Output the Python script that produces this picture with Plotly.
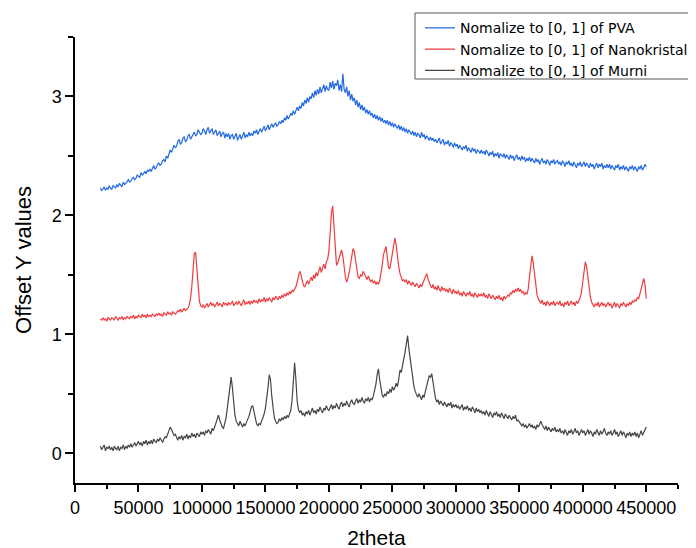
import plotly.graph_objects as go

# 2theta grid (step 1000, 20000..450000)
two_theta = list(range(20000, 451000, 1000))

pva = [
    2.23,2.21,2.22,2.24,2.21,2.23,2.22,2.25,2.23,2.22,2.25,2.24,2.23,2.26,2.24,2.27,2.25,2.24,2.28,2.26,
    2.27,2.29,2.30,2.28,2.29,2.31,2.32,2.30,2.31,2.34,2.33,2.32,2.36,2.34,2.35,2.37,2.35,2.38,2.37,2.39,
    2.37,2.40,2.42,2.39,2.40,2.43,2.44,2.42,2.43,2.46,2.47,2.45,2.50,2.48,2.52,2.55,2.53,2.56,2.59,2.57,
    2.58,2.62,2.64,2.60,2.61,2.65,2.66,2.62,2.63,2.67,2.68,2.64,2.66,2.69,2.70,2.67,2.68,2.72,2.70,2.68,
    2.69,2.73,2.71,2.68,2.72,2.74,2.69,2.71,2.73,2.68,2.70,2.72,2.67,2.69,2.71,2.66,2.69,2.70,2.65,2.69,
    2.66,2.69,2.64,2.67,2.68,2.64,2.66,2.69,2.63,2.65,2.68,2.64,2.67,2.70,2.65,2.68,2.66,2.70,2.67,2.69,
    2.67,2.71,2.69,2.72,2.68,2.71,2.73,2.70,2.72,2.75,2.71,2.74,2.76,2.72,2.75,2.77,2.74,2.76,2.78,2.75,
    2.76,2.79,2.77,2.80,2.78,2.82,2.80,2.84,2.81,2.83,2.86,2.84,2.88,2.85,2.89,2.91,2.88,2.92,2.90,2.95,
    2.92,2.97,2.94,2.99,2.95,3.00,2.98,3.03,2.99,3.05,3.01,3.06,3.02,3.08,3.03,3.07,3.10,3.04,3.09,3.06,
    3.05,3.12,3.07,3.13,3.06,3.11,3.09,3.14,3.05,3.10,3.04,3.19,3.06,3.03,3.08,3.00,3.05,2.97,3.02,2.96,
    2.99,2.93,2.97,2.91,2.95,2.89,2.93,2.88,2.91,2.86,2.89,2.85,2.88,2.84,2.86,2.82,2.85,2.81,2.84,2.80,
    2.83,2.79,2.82,2.78,2.80,2.77,2.80,2.76,2.79,2.75,2.78,2.74,2.77,2.75,2.73,2.76,2.72,2.75,2.71,2.74,
    2.70,2.73,2.69,2.72,2.70,2.68,2.71,2.67,2.70,2.66,2.69,2.68,2.65,2.70,2.66,2.68,2.64,2.67,2.65,2.63,
    2.66,2.63,2.65,2.62,2.64,2.61,2.63,2.65,2.60,2.62,2.64,2.59,2.62,2.60,2.63,2.58,2.61,2.60,2.57,2.61,
    2.58,2.60,2.56,2.59,2.57,2.55,2.58,2.56,2.59,2.54,2.57,2.55,2.53,2.57,2.54,2.56,2.52,2.55,2.54,2.52,
    2.55,2.52,2.54,2.51,2.55,2.53,2.50,2.53,2.51,2.54,2.49,2.52,2.50,2.53,2.48,2.52,2.50,2.49,2.52,2.48,
    2.51,2.49,2.47,2.51,2.48,2.50,2.46,2.49,2.51,2.47,2.49,2.46,2.50,2.47,2.49,2.45,2.48,2.46,2.49,2.45,
    2.48,2.46,2.44,2.48,2.45,2.47,2.43,2.46,2.48,2.44,2.46,2.43,2.47,2.45,2.42,2.46,2.44,2.47,2.43,2.45,
    2.46,2.43,2.45,2.42,2.46,2.44,2.41,2.45,2.43,2.46,2.42,2.44,2.41,2.45,2.43,2.40,2.44,2.42,2.45,2.41,
    2.43,2.45,2.41,2.44,2.42,2.40,2.44,2.41,2.43,2.39,2.42,2.44,2.40,2.43,2.41,2.44,2.39,2.42,2.40,2.43,
    2.40,2.43,2.39,2.42,2.40,2.38,2.42,2.40,2.43,2.38,2.41,2.39,2.42,2.38,2.41,2.39,2.37,2.41,2.39,2.42,
    2.38,2.41,2.39,2.37,2.41,2.39,2.42,2.38,2.40,2.43,2.41,
]

nanokristal = [
    1.13,1.12,1.14,1.12,1.13,1.11,1.14,1.13,1.12,1.14,1.13,1.12,1.15,1.13,1.12,1.14,1.13,1.15,1.12,1.14,
    1.13,1.15,1.14,1.13,1.15,1.14,1.16,1.13,1.15,1.14,1.16,1.15,1.14,1.17,1.15,1.16,1.14,1.17,1.15,1.16,
    1.15,1.17,1.16,1.15,1.17,1.16,1.18,1.16,1.17,1.15,1.18,1.17,1.16,1.19,1.17,1.18,1.16,1.19,1.18,1.17,
    1.18,1.20,1.19,1.21,1.19,1.20,1.22,1.20,1.21,1.22,1.25,1.30,1.40,1.55,1.68,1.69,1.55,1.38,1.28,1.24,
    1.23,1.25,1.22,1.24,1.26,1.23,1.25,1.27,1.24,1.26,1.23,1.25,1.27,1.24,1.26,1.25,1.23,1.27,1.25,1.26,
    1.24,1.27,1.25,1.26,1.28,1.24,1.26,1.27,1.25,1.28,1.26,1.24,1.27,1.29,1.25,1.27,1.26,1.28,1.25,1.28,
    1.26,1.29,1.27,1.28,1.26,1.30,1.27,1.29,1.28,1.31,1.27,1.30,1.28,1.31,1.29,1.27,1.31,1.29,1.32,1.30,
    1.29,1.32,1.30,1.33,1.31,1.34,1.32,1.35,1.33,1.36,1.34,1.37,1.36,1.38,1.40,1.44,1.48,1.53,1.50,1.44,
    1.41,1.40,1.43,1.45,1.42,1.46,1.48,1.45,1.50,1.47,1.52,1.49,1.54,1.57,1.52,1.56,1.59,1.55,1.61,1.63,
    1.70,1.85,2.02,2.08,1.90,1.70,1.58,1.60,1.64,1.69,1.71,1.66,1.56,1.48,1.44,1.47,1.52,1.60,1.68,1.72,
    1.70,1.62,1.53,1.48,1.47,1.50,1.49,1.53,1.51,1.48,1.46,1.49,1.47,1.44,1.46,1.43,1.45,1.42,1.44,1.42,
    1.45,1.50,1.58,1.67,1.72,1.74,1.65,1.56,1.55,1.62,1.70,1.78,1.81,1.75,1.65,1.57,1.51,1.47,1.45,1.46,
    1.44,1.46,1.42,1.45,1.43,1.41,1.44,1.42,1.40,1.43,1.41,1.39,1.42,1.40,1.43,1.46,1.48,1.51,1.47,1.43,
    1.41,1.39,1.42,1.38,1.40,1.37,1.41,1.38,1.36,1.40,1.37,1.39,1.36,1.38,1.35,1.39,1.36,1.34,1.38,1.35,
    1.36,1.34,1.37,1.33,1.35,1.32,1.36,1.34,1.32,1.35,1.33,1.36,1.32,1.34,1.31,1.35,1.33,1.31,1.34,1.32,
    1.34,1.32,1.35,1.31,1.33,1.30,1.34,1.32,1.30,1.33,1.31,1.29,1.32,1.30,1.33,1.29,1.31,1.28,1.32,1.30,
    1.31,1.33,1.32,1.35,1.34,1.37,1.35,1.38,1.36,1.39,1.36,1.38,1.35,1.36,1.33,1.35,1.34,1.38,1.48,1.60,
    1.66,1.60,1.50,1.40,1.33,1.30,1.28,1.26,1.29,1.25,1.27,1.24,1.28,1.26,1.24,1.27,1.25,1.28,1.24,1.26,
    1.27,1.25,1.28,1.24,1.26,1.23,1.27,1.25,1.28,1.24,1.26,1.28,1.25,1.27,1.24,1.28,1.26,1.29,1.31,1.36,
    1.45,1.56,1.61,1.57,1.48,1.38,1.31,1.27,1.25,1.23,1.26,1.24,1.27,1.23,1.25,1.27,1.24,1.26,1.23,1.25,
    1.27,1.24,1.26,1.22,1.25,1.27,1.23,1.26,1.24,1.22,1.26,1.24,1.27,1.25,1.23,1.26,1.24,1.27,1.25,1.28,
    1.27,1.29,1.28,1.31,1.30,1.34,1.39,1.44,1.47,1.42,1.30,
]

murni = [
    0.06,0.03,0.05,0.07,0.02,0.05,0.04,0.06,0.03,0.05,0.02,0.06,0.04,0.03,0.06,0.02,0.05,0.04,0.07,0.03,
    0.06,0.04,0.07,0.05,0.08,0.05,0.07,0.09,0.06,0.08,0.10,0.07,0.09,0.06,0.10,0.08,0.11,0.07,0.10,0.08,
    0.11,0.08,0.12,0.10,0.09,0.12,0.10,0.13,0.11,0.09,0.12,0.14,0.13,0.16,0.19,0.22,0.20,0.17,0.15,0.16,
    0.13,0.11,0.14,0.12,0.15,0.11,0.14,0.13,0.16,0.12,0.15,0.13,0.17,0.14,0.16,0.13,0.17,0.15,0.14,0.18,
    0.16,0.18,0.15,0.19,0.17,0.20,0.18,0.16,0.21,0.19,0.22,0.26,0.30,0.32,0.28,0.24,0.22,0.21,0.25,0.30,
    0.38,0.47,0.58,0.64,0.55,0.42,0.32,0.27,0.25,0.23,0.27,0.24,0.22,0.25,0.23,0.26,0.28,0.31,0.35,0.39,
    0.40,0.35,0.29,0.25,0.23,0.25,0.24,0.27,0.30,0.33,0.38,0.45,0.55,0.66,0.62,0.48,0.36,0.30,0.27,0.25,
    0.26,0.29,0.27,0.30,0.28,0.31,0.29,0.32,0.30,0.33,0.36,0.45,0.60,0.76,0.62,0.44,0.37,0.34,0.36,0.32,
    0.34,0.31,0.35,0.33,0.36,0.32,0.35,0.38,0.34,0.36,0.33,0.37,0.35,0.39,0.36,0.34,0.38,0.36,0.40,0.37,
    0.36,0.39,0.41,0.37,0.40,0.38,0.42,0.39,0.37,0.41,0.43,0.39,0.42,0.40,0.44,0.41,0.39,0.43,0.45,0.42,
    0.41,0.44,0.46,0.42,0.45,0.43,0.47,0.44,0.42,0.46,0.44,0.47,0.43,0.46,0.45,0.48,0.52,0.58,0.66,0.71,
    0.62,0.54,0.49,0.47,0.50,0.48,0.52,0.50,0.54,0.51,0.56,0.53,0.55,0.59,0.56,0.62,0.70,0.68,0.73,0.79,
    0.85,0.92,0.99,0.88,0.80,0.70,0.62,0.56,0.52,0.50,0.47,0.50,0.48,0.45,0.49,0.47,0.52,0.56,0.60,0.65,
    0.64,0.67,0.60,0.52,0.46,0.43,0.45,0.41,0.44,0.42,0.40,0.43,0.41,0.39,0.42,0.40,0.43,0.38,0.41,0.39,
    0.41,0.38,0.40,0.37,0.39,0.41,0.36,0.39,0.37,0.40,0.36,0.38,0.35,0.39,0.37,0.34,0.38,0.35,0.37,0.34,
    0.36,0.33,0.35,0.32,0.36,0.34,0.31,0.35,0.33,0.30,0.34,0.32,0.35,0.31,0.33,0.30,0.34,0.32,0.29,0.33,
    0.31,0.29,0.32,0.30,0.28,0.31,0.29,0.32,0.27,0.28,0.26,0.24,0.23,0.25,0.22,0.24,0.21,0.23,0.25,0.22,
    0.24,0.21,0.23,0.20,0.24,0.22,0.25,0.27,0.24,0.22,0.20,0.23,0.19,0.22,0.20,0.18,0.21,0.19,0.22,0.18,
    0.20,0.18,0.21,0.17,0.19,0.16,0.20,0.18,0.15,0.19,0.17,0.20,0.16,0.18,0.21,0.17,0.19,0.15,0.18,0.20,
    0.17,0.19,0.15,0.18,0.20,0.16,0.19,0.17,0.14,0.18,0.16,0.20,0.17,0.15,0.19,0.16,0.18,0.21,0.17,0.15,
    0.18,0.16,0.19,0.15,0.17,0.20,0.16,0.18,0.14,0.17,0.19,0.15,0.18,0.16,0.13,0.17,0.15,0.18,0.14,0.17,
    0.15,0.18,0.14,0.17,0.13,0.16,0.19,0.15,0.17,0.20,0.22,
]

names = [
    "Nomalize to [0, 1] of PVA",
    "Nomalize to [0, 1] of Nanokristal",
    "Nomalize to [0, 1] of Murni",
]
colors = ["rgb(35,105,225)", "rgb(240,60,62)", "rgb(70,70,70)"]

x_ticks = [0, 50000, 100000, 150000, 200000, 250000, 300000, 350000, 400000, 450000]
y_ticks = [0, 1, 2, 3]

FONT = "Arial, Liberation Sans, sans-serif"

fig = go.Figure()
for name, ys, c in zip(names, [pva, nanokristal, murni], colors):
    fig.add_trace(go.Scatter(x=two_theta, y=ys, mode="lines", name=name,
                             line=dict(color=c, width=1.2)))

# top margin 0 and a y-domain below 1 keep the legend from pushing margins
fig.update_layout(
    width=696, height=548,
    margin=dict(l=67, r=26, t=0, b=73),
    paper_bgcolor="white", plot_bgcolor="white",
    font=dict(family=FONT, color="black"),
    showlegend=True,
    legend=dict(x=0.5721, y=0.991, xanchor="left", yanchor="top",
                bgcolor="rgba(0,0,0,0)", borderwidth=0,
                font=dict(family="DejaVu Sans, sans-serif", size=14, color="black"),
                tracegroupgap=0, itemwidth=30),
    shapes=[dict(type="rect", xref="paper", yref="paper",
                 x0=0.5638, x1=1.06, y0=0.8505, y1=0.9895,
                 line=dict(color="#555555", width=1), fillcolor="rgba(0,0,0,0)",
                 layer="above")],
)
fig.update_xaxes(
    range=[0, 475000], tickvals=x_ticks, ticktext=[str(v) for v in x_ticks],
    showgrid=False, zeroline=False, showline=True, linecolor="black", linewidth=1.5,
    ticks="outside", ticklen=7, tickwidth=1.5, tickcolor="black", ticklabelstandoff=1,
    minor=dict(dtick=25000, tick0=0, ticks="outside", ticklen=4, tickwidth=1.5, tickcolor="black"),
    tickfont=dict(size=18, family=FONT), automargin=False,
    title=dict(text="2theta", font=dict(size=21, family=FONT), standoff=13),
)
fig.update_yaxes(
    domain=[0, 0.93895],
    range=[-0.25, 3.5], tickvals=y_ticks, ticktext=[str(v) for v in y_ticks],
    showgrid=False, zeroline=False, showline=True, linecolor="black", linewidth=1.5,
    ticks="outside", ticklen=8, tickwidth=1.5, tickcolor="black",
    minor=dict(dtick=0.5, tick0=0, ticks="outside", ticklen=5, tickwidth=1.5, tickcolor="black"),
    tickfont=dict(size=18, family=FONT), automargin=False,
    title=dict(text="Offset Y values", font=dict(size=22, family=FONT), standoff=14),
)

fig.write_html("out.html")
